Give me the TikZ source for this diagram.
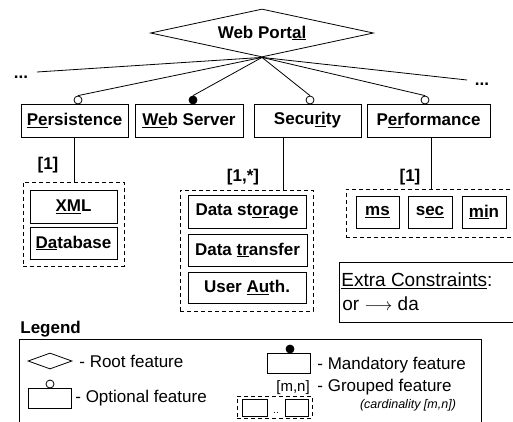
\documentclass[tikz,border=0pt]{standalone}
\usepackage{fontspec}
\setmainfont{Liberation Sans}
\usetikzlibrary{shapes.geometric}

\begin{document}
\begin{tikzpicture}[x=1pt, y=-1pt, line width=0.8pt, line join=miter,
  feat/.style={draw, rectangle, inner sep=0pt, minimum height=33pt, font=\fontsize{17}{19}\bfseries\selectfont},
  grpbox/.style={draw, rectangle, inner sep=0pt, dash pattern=on 4pt off 3pt},
  optc/.style={draw, circle, fill=white, inner sep=0pt, minimum size=8pt},
  manc/.style={draw, circle, fill=black, inner sep=0pt, minimum size=8pt},
  card/.style={inner sep=0pt, font=\fontsize{17}{19}\bfseries\selectfont},
  lgd/.style={inner sep=0pt, anchor=west, font=\fontsize{17}{19}\selectfont}]

  % 钉死画布 513x421，超出部分裁掉
  \clip (0,0) rectangle (513,421);

  %% ════ 根 ════
  \node[draw, diamond, inner sep=0pt, shape aspect=4.6, minimum width=223pt, minimum height=48pt,
        font=\fontsize{17}{19}\bfseries\selectfont] (root) at (262,33) {Web Port\underline{al}};

  %% ════ 第一层特征 ════
  \node[feat, minimum width=107pt] (pers) at (74.5,120.5) {\underline{Pe}rsistence};
  \node[feat, minimum width=108pt] (web)  at (189,120.5)  {\underline{We}b Server};
  \node[feat, minimum width=107pt] (sec)  at (307.5,120.5) {Secu\underline{ri}ty};
  \node[feat, minimum width=123pt] (perf) at (428.5,120.5) {P\underline{er}formance};

  \node[optc] (persC) at (78,100) {};
  \node[manc] (webC)  at (193,100) {};
  \node[optc] (secC)  at (310,100) {};
  \node[optc] (perfC) at (425,100) {};

  \coordinate (dotL) at (37,72);
  \coordinate (dotR) at (467,80);
  \node[card] (moreL) at (21,77) {...};
  \node[card] (moreR) at (482,84) {...};

  \draw (root.south) -- (dotL);
  \draw (root.south) -- (dotR);
  \draw (root.south) -- (persC.north);
  \draw (root.south) -- (webC.north);
  \draw (root.south) -- (secC.north);
  \draw (root.south) -- (perfC.north);

  %% ════ 组：Persistence ════
  \node[grpbox, minimum width=101pt, minimum height=84pt] (grp1) at (73.5,224) {};
  \node[feat, minimum width=87pt] (xml) at (73.5,206.5) {\underline{XM}L};
  \node[feat, minimum width=87pt, minimum height=32pt] (db) at (73.5,243) {\underline{Da}tabase};
  \node[card] (c1) at (48,165) {[1]};
  \draw (pers.south) -- (pers.south |- grp1.north);

  %% ════ 组：Security ════
  \node[grpbox, minimum width=133pt, minimum height=121pt] (grp2) at (246.5,250.5) {};
  \node[feat, minimum width=118pt] (store) at (247,211.5) {Data st\underline{or}age};
  \node[feat, minimum width=119pt, minimum height=32pt] (trans) at (247.5,250) {Data \underline{tr}ansfer};
  \node[feat, minimum width=118pt, minimum height=31pt] (auth) at (247,287.5) {User \underline{Au}th.};
  \node[card] (c2) at (243,177) {[1,*]};
  \draw ([xshift=-24.5pt]sec.south) -- ([xshift=-24.5pt]sec.south |- grp2.north);

  %% ════ 组：Performance ════
  \node[grpbox, minimum width=184pt, minimum height=48pt] (grp3) at (438,213) {};
  \node[feat, minimum width=43pt, minimum height=32pt] (ms)  at (377.5,212) {\underline{ms}};
  \node[feat, minimum width=44pt, minimum height=32pt] (sc)  at (430,212)   {s\underline{ec}};
  \node[feat, minimum width=44pt, minimum height=32pt] (mn)  at (484,212)   {\underline{mi}n};
  \node[card] (c3) at (410,177) {[1]};
  \draw ([xshift=2.5pt]perf.south) -- ([xshift=2.5pt]perf.south |- grp3.north);

  %% ════ 附加约束 ════
  \node[draw, rectangle, inner sep=0pt, minimum width=191pt, minimum height=60pt] (extra) at (434.5,292) {};
  \node[inner sep=0pt, anchor=west, font=\fontsize{19}{21}\selectfont] (exT) at (341,281) {\underline{Extra Constraints}:};
  \node[inner sep=0pt, anchor=west, font=\fontsize{19}{21}\selectfont] (exR) at (342,304) {or $\longrightarrow$ da};

  %% ════ 图例 ════
  \node[inner sep=0pt, anchor=west, font=\fontsize{17}{19}\bfseries\selectfont] (lgT) at (20,329) {Legend};
  \node[draw, rectangle, inner sep=0pt, minimum width=462pt, minimum height=106pt] (lgBox) at (250,392) {};

  \node[draw, diamond, inner sep=0pt, shape aspect=2.75, minimum width=44pt, minimum height=16pt] (lgRoot) at (50,361) {};
  \node[lgd] (lgRootT) at (79,361) {- Root feature};

  \node[draw, rectangle, inner sep=0pt, minimum width=43pt, minimum height=20pt] (lgOpt) at (49.5,398) {};
  \node[optc] (lgOptC) at (50,384) {};
  \node[lgd] (lgOptT) at (75,398) {- Optional feature};

  \node[draw, rectangle, inner sep=0pt, minimum width=43pt, minimum height=20pt] (lgMan) at (288.5,363) {};
  \node[manc] (lgManC) at (290,349) {};
  \node[lgd] (lgManT) at (317,365) {- Mandatory feature};

  \node[grpbox, minimum width=75pt, minimum height=22pt] (lgGrp) at (274.5,407) {};
  \node[draw, rectangle, inner sep=0pt, minimum width=25pt, minimum height=17pt] (lgG1) at (254.5,407.5) {};
  \node[draw, rectangle, inner sep=0pt, minimum width=23pt, minimum height=17pt] (lgG2) at (296.5,407.5) {};
  \node[inner sep=0pt, font=\fontsize{10}{12}\selectfont] (lgGdots) at (276,413) {..};
  \node[inner sep=0pt, font=\fontsize{15}{17}\selectfont] (lgCard) at (293,388) {[m,n]};
  \node[lgd] (lgGrpT) at (317,387.5) {- Grouped feature};
  \node[inner sep=0pt, font=\fontsize{12.5}{14}\itshape\selectfont] (lgGrpC) at (408,405) {(cardinality [m,n])};

\end{tikzpicture}
\end{document}
